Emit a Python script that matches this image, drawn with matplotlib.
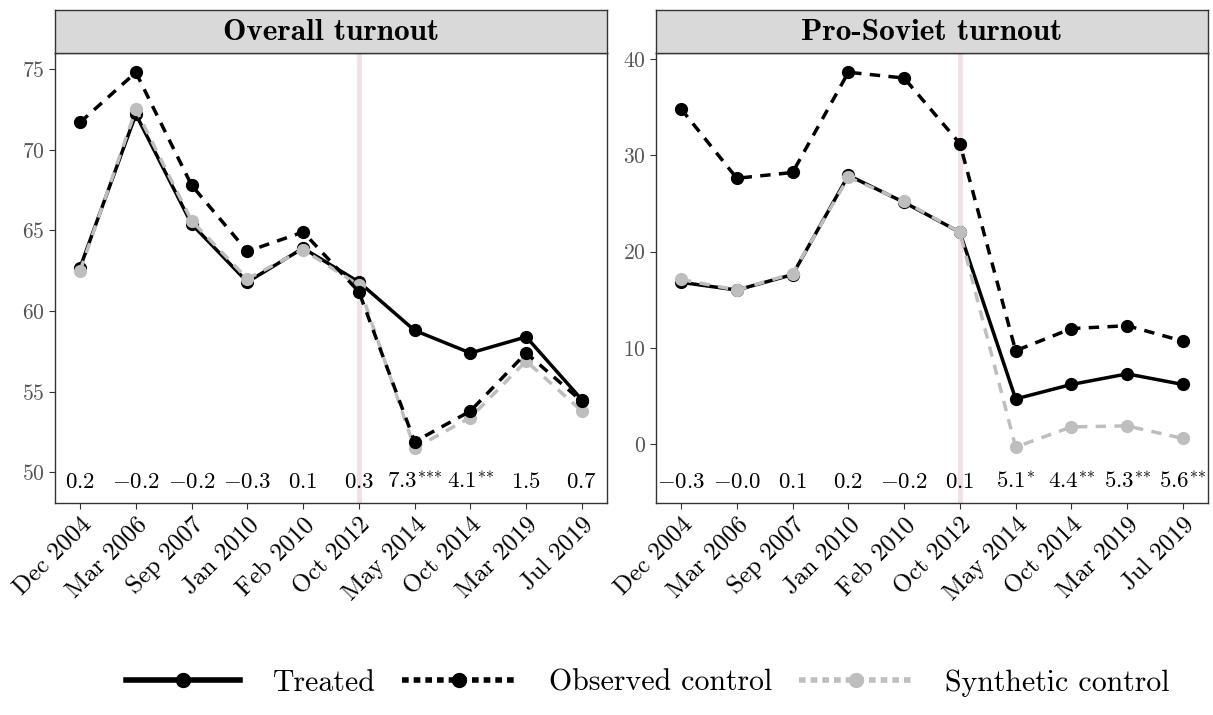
import matplotlib
matplotlib.use("Agg")
import matplotlib.pyplot as plt
from matplotlib.lines import Line2D

plt.rcParams['font.family'] = 'cmr10'
plt.rcParams['mathtext.fontset'] = 'cm'
plt.rcParams['axes.formatter.use_mathtext'] = True

elections = ['Dec 2004', 'Mar 2006', 'Sep 2007', 'Jan 2010', 'Feb 2010',
             'Oct 2012', 'May 2014', 'Oct 2014', 'Mar 2019', 'Jul 2019']

# overall turnout (%)
overall_treated = [62.7, 72.2, 65.4, 61.8, 63.9, 61.8, 58.8, 57.4, 58.4, 54.5]
overall_observed = [71.7, 74.8, 67.8, 63.7, 64.9, 61.2, 51.9, 53.8, 57.4, 54.4]
overall_synth = [62.5, 72.5, 65.6, 62.0, 63.8, 61.6, 51.5, 53.4, 56.9, 53.8]
overall_effect = ['0.2', '-0.2', '-0.2', '-0.3', '0.1', '0.3', '7.3', '4.1', '1.5', '0.7']
overall_stars = ['', '', '', '', '', '', '***', '**', '', '']

# pro-Soviet party turnout (%)
soviet_treated = [16.8, 16.0, 17.6, 27.9, 25.1, 22.0, 4.7, 6.2, 7.3, 6.2]
soviet_observed = [34.8, 27.6, 28.2, 38.6, 38.0, 31.2, 9.7, 12.0, 12.3, 10.7]
soviet_synth = [17.1, 16.0, 17.7, 27.7, 25.2, 22.0, -0.3, 1.8, 1.9, 0.6]
soviet_effect = ['-0.3', '-0.0', '0.1', '0.2', '-0.2', '0.1', '5.1', '4.4', '5.3', '5.6']
soviet_stars = ['', '', '', '', '', '', '*', '**', '**', '**']

panels = [
    ('Overall turnout', overall_treated, overall_observed, overall_synth,
     overall_effect, overall_stars, (48.1, 76.0), [50, 55, 60, 65, 70, 75], 49.0),
    ('Pro-Soviet turnout', soviet_treated, soviet_observed, soviet_synth,
     soviet_effect, soviet_stars, (-6.1, 40.6), [0, 10, 20, 30, 40], -4.55),
]


def effect_label(val, stars):
    s = val
    if stars:
        s += '^{' + ''.join('{*}' for _ in stars) + '}'
    return '$' + s + '$'


W, H = 1213, 715
fig = plt.figure(figsize=(W / 100, H / 100), dpi=100)

dash = (0, (3.0, 2.4))
lefts = [55, 656]
x = list(range(len(elections)))

for (title, treated, observed, synth, effect, stars, ylim, yticks, ylab), left in zip(panels, lefts):
    ax = fig.add_axes([left / W, 1 - 503 / H, 552 / W, 450 / H])
    ax.axvline(5, color='#f2e1e4', lw=3.5, zorder=1)
    ax.plot(x, treated, color='black', lw=2.5, marker='o', ms=8.5, zorder=3)
    ax.plot(x, synth, color='#bebebe', lw=2.5, ls=dash, marker='o', ms=8.5, zorder=4)
    ax.plot(x, observed, color='black', lw=2.5, ls=dash, marker='o', ms=8.5, zorder=5)
    for xi, val, st in zip(x, effect, stars):
        ax.text(xi, ylab, effect_label(val, st), ha='center', va='baseline',
                fontsize=16.5, zorder=6)
    ax.set_xlim(-0.45, 9.45)
    ax.set_ylim(*ylim)
    ax.set_yticks(yticks)
    ax.set_xticks(x)
    ax.set_xticklabels(elections, rotation=45, ha='right', rotation_mode='anchor', fontsize=18)
    ax.tick_params(axis='y', labelsize=15.5, labelcolor='#555555', color='#333333', length=4)
    ax.tick_params(axis='x', color='#333333', length=4)
    for s in ax.spines.values():
        s.set_color('#333333')
        s.set_linewidth(1.0)

    # facet strip
    sax = fig.add_axes([left / W, 1 - 53 / H, 552 / W, 43 / H])
    sax.set_xticks([])
    sax.set_yticks([])
    sax.set_facecolor('#d9d9d9')
    for s in sax.spines.values():
        s.set_color('#333333')
        s.set_linewidth(1.0)
    sax.text(0.5, 0.47, title, ha='center', va='center', fontsize=22.5,
             family='cmb10', transform=sax.transAxes)

handles = [
    Line2D([], [], color='black', lw=4, marker='o', ms=10),
    Line2D([], [], color='black', lw=4, ls=(0, (1.2, 0.9)), marker='o', ms=10),
    Line2D([], [], color='#bebebe', lw=4, ls=(0, (1.2, 0.9)), marker='o', ms=10),
]
fig.legend(handles, ['Treated', 'Observed control', 'Synthetic control'],
           loc='center', bbox_to_anchor=(648 / W, 1 - 683 / H), ncol=3, frameon=False,
           fontsize=21.5, handlelength=3.8, handletextpad=1.1, columnspacing=0.9)

fig.savefig('out.png', dpi=100)
